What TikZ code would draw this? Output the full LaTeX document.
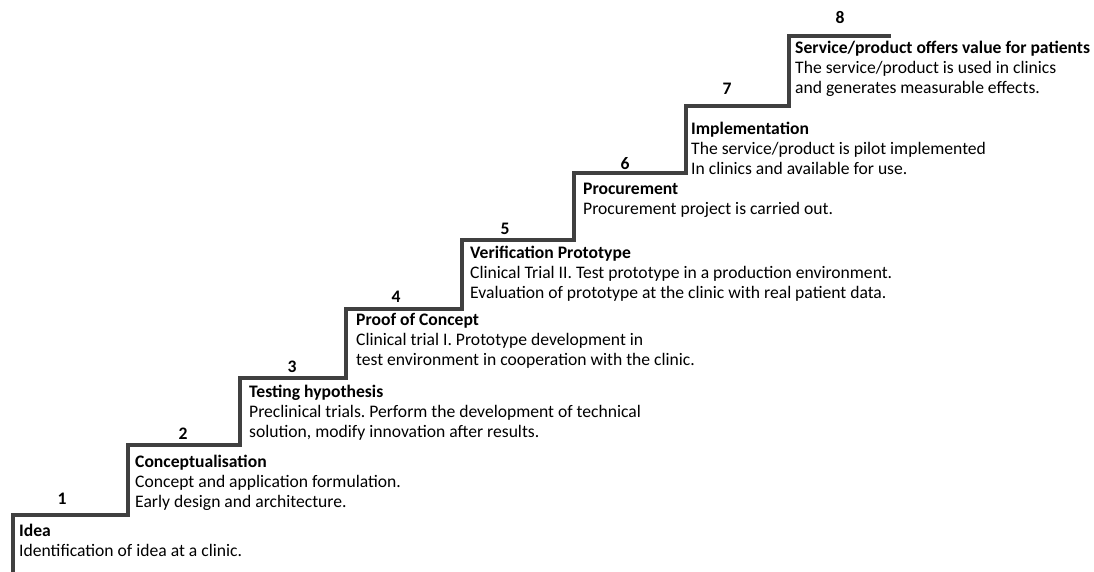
\documentclass[tikz,border=0pt]{standalone}
\usepackage{fontspec}
\setmainfont{Carlito}
\frenchspacing
\begin{document}
\begin{tikzpicture}[x=1pt,y=-1pt,
  stair/.style={draw=black!75, line width=3.3pt, line join=miter},
  num/.style={font=\fontsize{17.6}{20}\selectfont\bfseries, inner sep=0pt, anchor=base},
  desc/.style={anchor=base west, inner sep=0pt, font=\fontsize{17.6}{20.4}\selectfont}]
\useasboundingbox (0,0) rectangle (1094,571);
% stair coordinates
\coordinate (p0) at (13,573);
\coordinate (p1) at (13,515);
\coordinate (p2) at (128,515);
\coordinate (p3) at (128,445);
\coordinate (p4) at (240,445);
\coordinate (p5) at (240,378);
\coordinate (p6) at (346,378);
\coordinate (p7) at (346,309);
\coordinate (p8) at (462,309);
\coordinate (p9) at (462,240);
\coordinate (p10) at (574,240);
\coordinate (p11) at (574,173);
\coordinate (p12) at (686,173);
\coordinate (p13) at (686,106);
\coordinate (p14) at (789,106);
\coordinate (p15) at (789,36);
\coordinate (p16) at (891,36);
\draw[stair] (p0) -- (p1) -- (p2) -- (p3) -- (p4) -- (p5) -- (p6) -- (p7) -- (p8) -- (p9) -- (p10) -- (p11) -- (p12) -- (p13) -- (p14) -- (p15) -- (p16);
% numbers
\node[num] (n1) at (62,504) {1};
\node[num] (n2) at (183,439) {2};
\node[num] (n3) at (292,372) {3};
\node[num] (n4) at (396,302) {4};
\node[num] (n5) at (505,234) {5};
\node[num] (n6) at (625,169) {6};
\node[num] (n7) at (727,94) {7};
\node[num] (n8) at (840,23) {8};
% descriptions
\node[desc] (t1) at (19,536) {\begin{tabular}[t]{@{}l@{}}\textbf{Idea}\\Identification of idea at a clinic.\end{tabular}};
\node[desc] (t2) at (135,467) {\begin{tabular}[t]{@{}l@{}}\textbf{Conceptualisation}\\Concept and application formulation.\\Early design and architecture.\end{tabular}};
\node[desc] (t3) at (249,397) {\begin{tabular}[t]{@{}l@{}}\textbf{Testing hypothesis}\\Preclinical trials. Perform the development of technical\\solution, modify innovation after results.\end{tabular}};
\node[desc] (t4) at (356,325) {\begin{tabular}[t]{@{}l@{}}\textbf{Proof of Concept}\\Clinical trial I. Prototype development in\\test environment in cooperation with the clinic.\end{tabular}};
\node[desc] (t5) at (470,258) {\begin{tabular}[t]{@{}l@{}}\textbf{Verification Prototype}\\Clinical Trial II. Test prototype in a production environment.\\Evaluation of prototype at the clinic with real patient data.\end{tabular}};
\node[desc] (t6) at (583,194) {\begin{tabular}[t]{@{}l@{}}\textbf{Procurement}\\Procurement project is carried out.\end{tabular}};
\node[desc] (t7) at (691,134) {\begin{tabular}[t]{@{}l@{}}\textbf{Implementation}\\The service/product is pilot implemented\\In clinics and available for use.\end{tabular}};
\node[desc] (t8) at (795,53) {\begin{tabular}[t]{@{}l@{}}\textbf{Service/product offers value for patients}\\The service/product is used in clinics\\and generates measurable effects.\end{tabular}};
\end{tikzpicture}
\end{document}
